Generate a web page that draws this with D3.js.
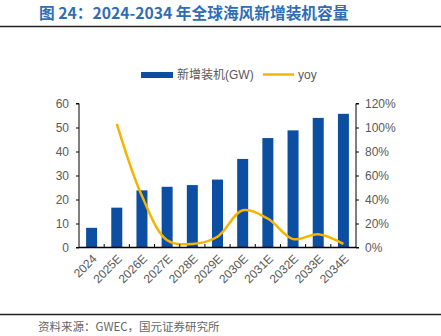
<!DOCTYPE html>
<html><head><meta charset="utf-8">
<script src="https://cdn.jsdelivr.net/npm/d3@7"></script>
<style>body{margin:0;background:#fff}svg{display:block}</style>
</head><body>
<script>
const categories = ["2024","2025E","2026E","2027E","2028E","2029E","2030E","2031E","2032E","2033E","2034E"];
const capacity = [8.2, 16.6, 23.8, 25.3, 26.0, 28.3, 36.9, 45.6, 48.8, 54.0, 55.7];
const yoy = [null, 103, 43, 6, 3, 9, 31, 24, 7, 11, 3];
const leftTicks = [0,10,20,30,40,50,60];
const rightTicks = [0,20,40,60,80,100,120];
const title = "图 24：2024-2034 年全球海风新增装机容量";
const source = "资料来源：GWEC，国元证券研究所";
const legendBar = "新增装机(GW)";
const legendLine = "yoy";

const W=441,H=336;
const m={l:79,r:356,t:103.5,b:247.5};
const svg=d3.select("body").append("svg").attr("width",W).attr("height",H);
const font="'Liberation Sans', Arial, 'Noto Sans CJK SC', sans-serif";

svg.append("text").attr("x",39).attr("y",19).attr("fill","#2f6db5").attr("font-weight","bold")
  .attr("font-size",15.7).attr("font-family","'Noto Sans CJK SC', sans-serif").text(title);
svg.append("line").attr("x1",0).attr("x2",441).attr("y1",26.5).attr("y2",26.5).attr("stroke","#222").attr("stroke-width",1.5);
svg.append("line").attr("x1",0).attr("x2",441).attr("y1",314.5).attr("y2",314.5).attr("stroke","#222").attr("stroke-width",1.5);
svg.append("text").attr("x",38).attr("y",331).attr("fill","#666").attr("font-size",11.5)
  .attr("font-family","'Noto Sans CJK SC', sans-serif").text(source);

const xb=d3.scaleBand().domain(categories).range([m.l,m.r]);
const yL=d3.scaleLinear().domain([0,60]).range([m.b,m.t]);
const yR=d3.scaleLinear().domain([0,120]).range([m.b,m.t]);

svg.append("g").selectAll("rect").data(categories).join("rect")
  .attr("x",d=>xb(d)+xb.bandwidth()/2-5.5).attr("width",11)
  .attr("y",(d,i)=>yL(capacity[i])).attr("height",(d,i)=>m.b-yL(capacity[i]))
  .attr("fill","#0b4ea2");

const line=d3.line().defined(d=>d.v!=null).x(d=>xb(d.c)+xb.bandwidth()/2).y(d=>yR(d.v)).curve(d3.curveCatmullRom.alpha(0.5));
svg.append("path").datum(categories.map((c,i)=>({c,v:yoy[i]})).filter(d=>d.v!=null))
  .attr("d",line).attr("fill","none").attr("stroke","#f5b400").attr("stroke-width",2.5);

const gl=svg.append("g").attr("transform",`translate(${m.l},0)`)
  .call(d3.axisLeft(yL).tickValues(leftTicks).tickSize(3).tickPadding(7));
const gr=svg.append("g").attr("transform",`translate(${m.r},0)`)
  .call(d3.axisRight(yR).tickValues(rightTicks).tickFormat(d=>d+"%").tickSize(3).tickPadding(6));
[gl,gr].forEach(g=>{g.select(".domain").attr("stroke","#000").attr("stroke-width",1);
  g.selectAll(".tick line").attr("stroke","#000");
  g.selectAll("text").attr("fill","#595959").attr("font-size",12).attr("font-family",font);});
gl.select(".domain").attr("d",`M-3,${m.t}H0V${m.b}H-3`);
gr.select(".domain").attr("d",`M3,${m.t}H0V${m.b}H3`);

const gx=svg.append("g").attr("transform",`translate(0,${m.b})`);
gx.append("line").attr("x1",m.l).attr("x2",m.r).attr("stroke","#000").attr("stroke-width",1.5);
gx.selectAll(".tk").data(categories.slice(1)).join("line").attr("class","tk")
  .attr("x1",d=>xb(d)).attr("x2",d=>xb(d)).attr("y1",0).attr("y2",-3.5).attr("stroke","#000");
gx.selectAll(".lbl").data(categories).join("text").attr("class","lbl")
  .attr("transform",d=>`translate(${xb(d)+xb.bandwidth()/2+3},${9}) rotate(-45)`)
  .attr("text-anchor","end").attr("dy","0.35em").attr("fill","#595959").attr("font-size",12)
  .attr("font-family",font).text(d=>d);

const lg=svg.append("g");
lg.append("rect").attr("x",141).attr("y",72).attr("width",32).attr("height",6).attr("fill","#0b4ea2");
lg.append("text").attr("x",177).attr("y",79).attr("fill","#595959").attr("font-size",12).attr("font-family",font).text(legendBar);
lg.append("line").attr("x1",263).attr("x2",294).attr("y1",74.5).attr("y2",74.5).attr("stroke","#f5b400").attr("stroke-width",2.5);
lg.append("text").attr("x",298).attr("y",79).attr("fill","#595959").attr("font-size",12).attr("font-family",font).text(legendLine);
</script>
</body></html>
